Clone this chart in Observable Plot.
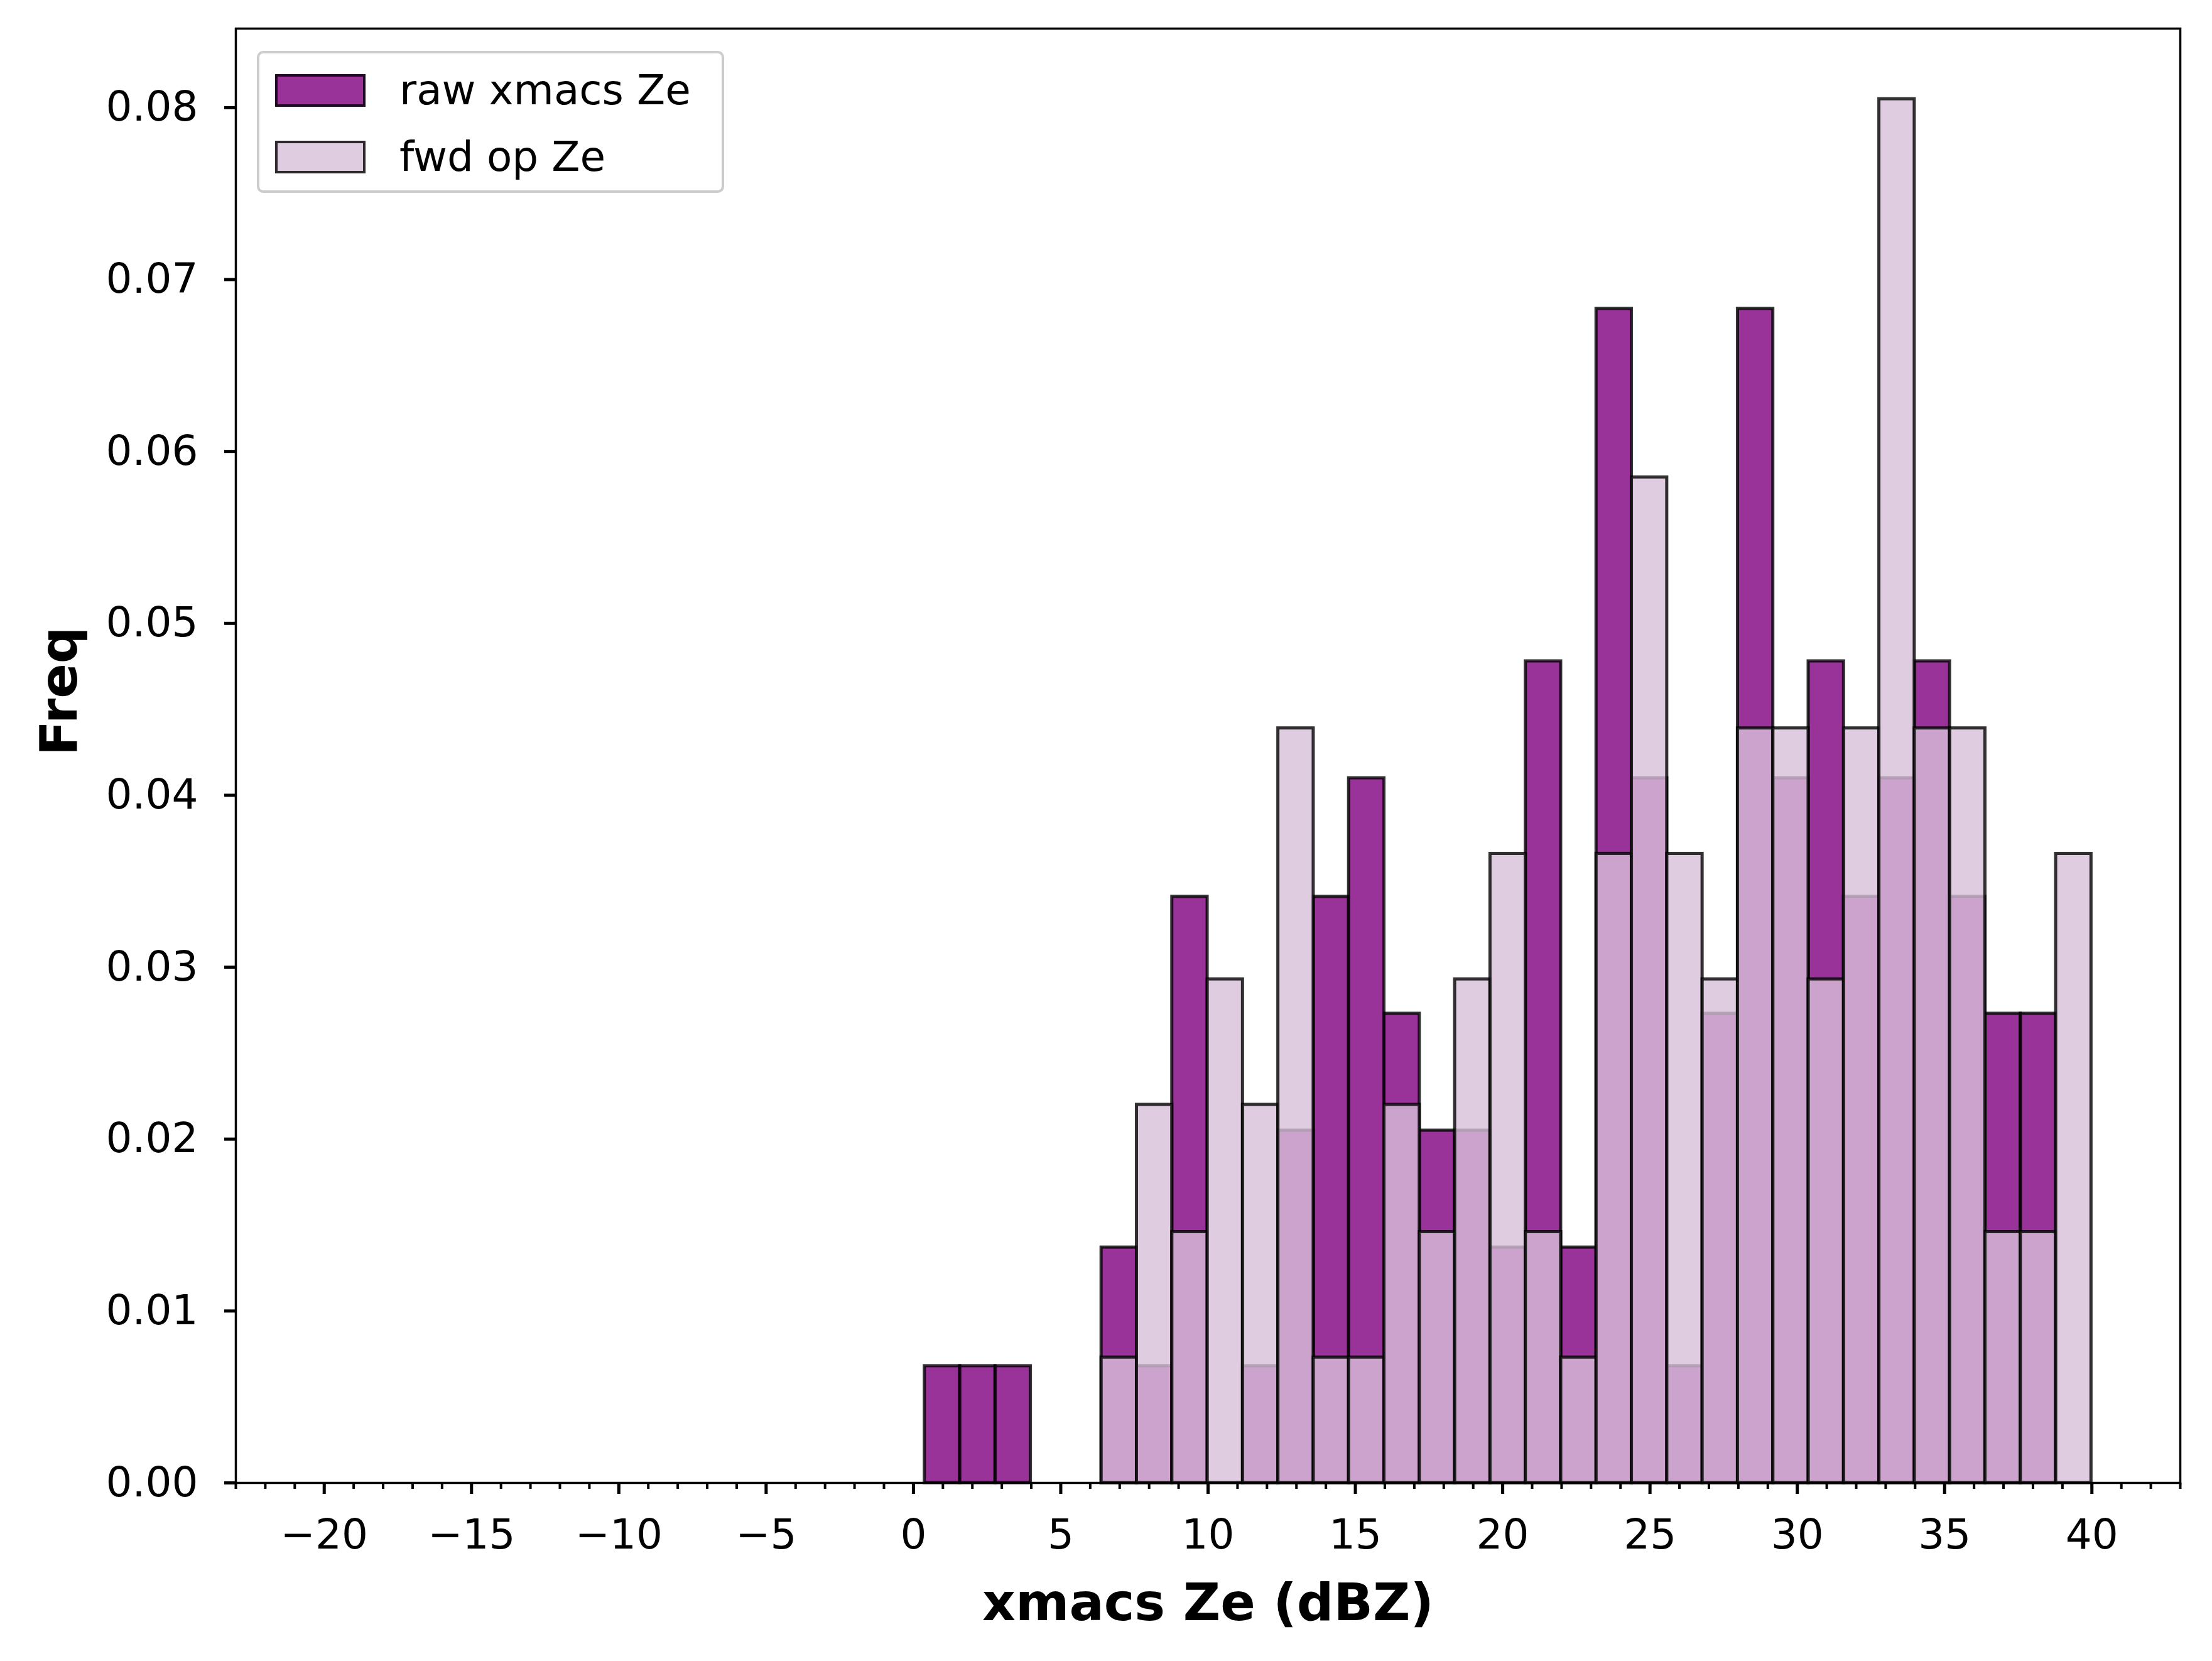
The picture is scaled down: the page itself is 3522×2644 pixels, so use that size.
<!DOCTYPE html>
<html><head>
<script src="https://cdn.jsdelivr.net/npm/d3@7"></script>
<script src="https://cdn.jsdelivr.net/npm/@observablehq/plot@0.6"></script>
<style>
body{margin:0;background:#fff;font-family:"DejaVu Sans",sans-serif;}
#wrap{position:relative;width:3522px;height:2644px;}
#legend{position:absolute;left:409px;top:81px;width:744px;height:226px;border:4px solid #ccc;border-radius:10px;background:rgba(255,255,255,0.8);box-sizing:border-box;font-size:66px;}
.row{position:absolute;left:25px;display:flex;align-items:center;}
.sw{width:144px;height:52px;border:4px solid rgba(0,0,0,0.8);box-sizing:border-box;margin-right:54px;}
</style>
</head><body>
<div id="wrap"><div id="legend">
<div class="row" style="top:20px"><div class="sw" style="background:rgba(128,0,128,0.8)"></div>raw xmacs Ze</div>
<div class="row" style="top:126px"><div class="sw" style="background:rgba(216,191,216,0.8)"></div>fwd op Ze</div>
</div></div>
<script>
const binStart = 0.38, binWidth = 1.2;
const rawFreq = [0.0068,0.0068,0.0068,0,0,0.0137,0.0068,0.0341,0,0.0068,0.0205,0.0341,0.041,0.0273,0.0205,0.0205,0.0137,0.0478,0.0137,0.0683,0.041,0.0068,0.0273,0.0683,0.041,0.0478,0.0341,0.041,0.0478,0.0341,0.0273,0.0273,0];
const fwdFreq = [0,0,0,0,0,0.0073,0.022,0.0146,0.0293,0.022,0.0439,0.0073,0.0073,0.022,0.0146,0.0293,0.0366,0.0146,0.0073,0.0366,0.0585,0.0366,0.0293,0.0439,0.0439,0.0293,0.0439,0.0805,0.0439,0.0439,0.0146,0.0146,0.0366];
const mk = a => a.map((v,i)=>({x1:binStart+i*binWidth,x2:binStart+(i+1)*binWidth,y:v})).filter(d=>d.y>0);
const raw = mk(rawFreq), fwd = mk(fwdFreq);
const majorX = d3.range(-20,41,5), minorX = d3.range(-23,44,1);
const yTicks = d3.range(0,0.081,0.01);
const fmtX = d => (d<0?"\u2212":"")+Math.abs(d);
const chart = Plot.plot({
  width:3522, height:2644,
  marginLeft:375, marginRight:51, marginTop:45, marginBottom:284,
  style:{fontFamily:"DejaVu Sans",fontSize:"66px",color:"#000"},
  x:{domain:[-23,43]}, y:{domain:[0,0.0846]},
  marks:[
    Plot.rectY(raw,{x1:"x1",x2:"x2",y:"y",fill:"purple",fillOpacity:0.8,stroke:"#000",strokeOpacity:0.8,strokeWidth:5}),
    Plot.rectY(fwd,{x1:"x1",x2:"x2",y:"y",fill:"thistle",fillOpacity:0.8,stroke:"#000",strokeOpacity:0.8,strokeWidth:5}),
    Plot.axisX(majorX,{tickSize:18,strokeWidth:5,tickPadding:40,tickFormat:fmtX,fontSize:66,label:null}),
    Plot.axisX(minorX,{tickSize:10,strokeWidth:4,tickFormat:null,label:null,text:null}),
    Plot.axisY(yTicks,{tickSize:18,strokeWidth:5,tickPadding:42,tickFormat:d3.format(".2f"),fontSize:66,label:null}),
    Plot.text(["xmacs Ze (dBZ)"],{frameAnchor:"bottom",dy:218,fontSize:82,fontWeight:"bold"}),
    Plot.text(["Freq"],{frameAnchor:"left",dx:-280,rotate:-90,fontSize:82,fontWeight:"bold"}),
    Plot.frame({stroke:"#000",strokeWidth:3.5})
  ]
});
document.getElementById("wrap").prepend(chart);
chart.style.position="absolute";chart.style.left="0";chart.style.top="0";
</script>
</body></html>
